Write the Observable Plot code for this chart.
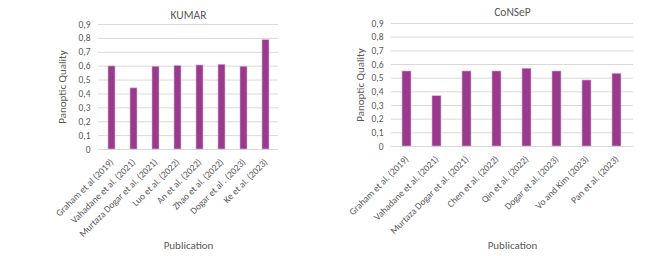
<!DOCTYPE html>
<html>
<head>
<meta charset="utf-8">
<script src="https://cdn.jsdelivr.net/npm/d3@7"></script>
<script src="https://cdn.jsdelivr.net/npm/@observablehq/plot@0.6"></script>
<style>
  html, body { margin: 0; padding: 0; background: #fff; }
  #wrap { display: flex; width: 667px; height: 256px; }
  svg { display: block; }
</style>
</head>
<body>
<div id="wrap"></div>
<script>
const kumarNames = ["Graham et al (2019)", "Vahadane et al. (2021)", "Murtaza Dogar et al. (2021)", "Luo et al. (2022)", "An et al. (2022)", "Zhao et al. (2022)", "Dogar et al . (2023)", "Ke et al. (2023)"];
const kumarPQ = [0.598, 0.440, 0.596, 0.602, 0.605, 0.610, 0.596, 0.787];

const consepNames = ["Graham et al. (2019)", "Vahadane et al. (2021)", "Murtaza Dogar et al. (2021)", "Chen et al. (2022)", "Qin et al. (2022)", "Dogar et al. (2023)", "Vo and Kim (2023)", "Pan et al. (2023)"];
const consepPQ = [0.549, 0.368, 0.549, 0.549, 0.569, 0.549, 0.483, 0.532];

const yTicks = [0, 0.1, 0.2, 0.3, 0.4, 0.5, 0.6, 0.7, 0.8, 0.9];
const titles = ["KUMAR", "CoNSeP"];
const xLabel = "Publication";
const yLabel = "Panoptic Quality";

const FONT = "Carlito, Lato, 'Open Sans', sans-serif";
const TEXT = "#595959";
const BAR = "#993a8c";
const fmt = d => d === 0 ? "0" : d.toFixed(1).replace(".", ",");

function chart(names, values, title, opts) {
  const data = names.map((n, i) => ({name: n, value: values[i]}));
  return Plot.plot({
    width: opts.width,
    height: 256,
    marginLeft: opts.ml,
    marginRight: opts.mr,
    marginTop: opts.mt,
    marginBottom: opts.mb,
    style: {fontFamily: FONT, fontSize: "9.5px", color: TEXT, background: "#fff"},
    x: {domain: names, paddingInner: 0.69, paddingOuter: 0.345},
    y: {domain: [0, 0.9]},
    marks: [
      Plot.gridY(yTicks, {stroke: "#d9d9d9", strokeOpacity: 1, strokeWidth: 1}),
      Plot.barY(data, {x: "name", y: "value", fill: BAR, stroke: "#d8b4d2", strokeWidth: 0.6}),
      Plot.axisY(yTicks, {tickSize: 0, tickPadding: 8, tickFormat: fmt, fill: TEXT, fontSize: 9.5, label: null}),
      Plot.axisX({tickSize: 0, tickPadding: 11, tickRotate: -45, fill: TEXT, fontSize: 9.5, label: null}),
      Plot.text([yLabel], {frameAnchor: "left", rotate: -90, dx: -opts.lo, textAnchor: "middle", lineAnchor: "middle", fill: TEXT, fontSize: 11}),
      Plot.text([title], {frameAnchor: "top", dy: opts.tdy, fill: TEXT, fontSize: 11.5}),
      Plot.text([xLabel], {frameAnchor: "bottom", dy: opts.xdy, fill: TEXT, fontSize: 11})
    ]
  });
}

const wrap = document.getElementById("wrap");
wrap.appendChild(chart(kumarNames, kumarPQ, titles[0], {width: 330, ml: 98, mr: 52, mt: 24, mb: 107, lo: 36, tdy: -14, xdy: 99}));
wrap.appendChild(chart(consepNames, consepPQ, titles[1], {width: 337, ml: 61, mr: 34, mt: 23, mb: 110, lo: 31, tdy: -16, xdy: 102}));
</script>
</body>
</html>
